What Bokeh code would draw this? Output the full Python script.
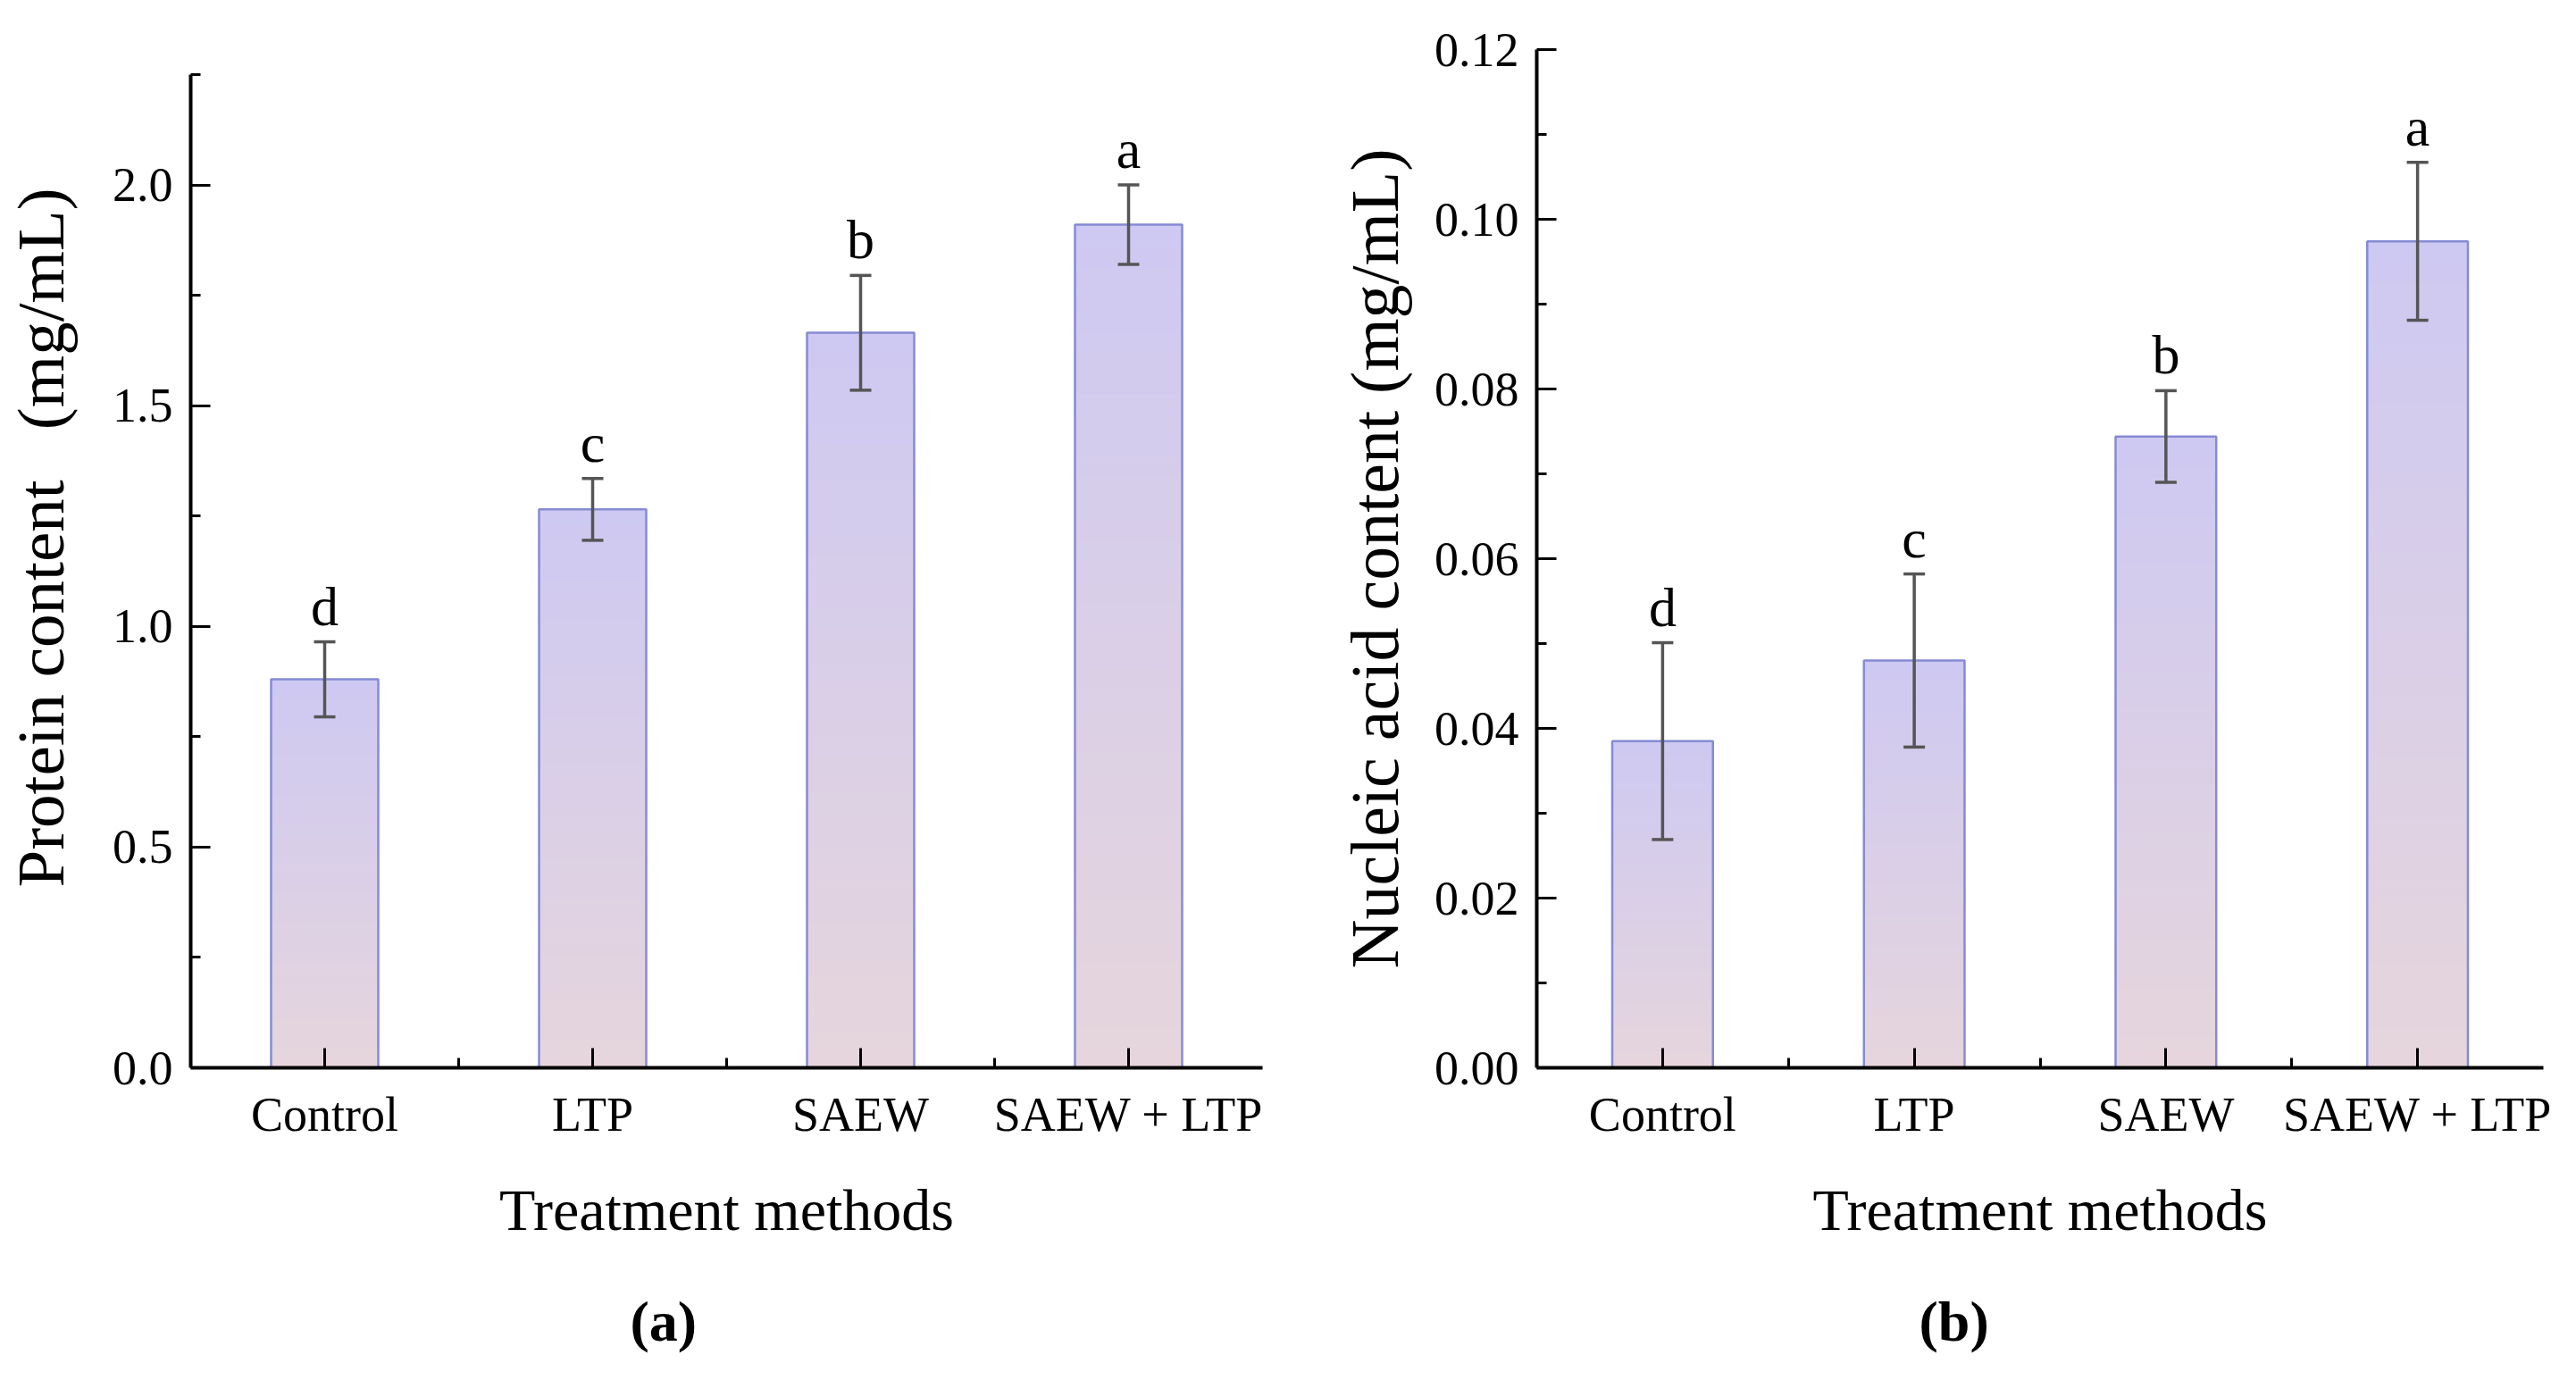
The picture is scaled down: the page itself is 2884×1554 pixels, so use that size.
from bokeh.plotting import figure
from bokeh.models import (Range1d, FixedTicker, ColumnDataSource, Whisker, TeeHead,
                          LinearAxis, NumeralTickFormatter)
from bokeh.layouts import row
from bokeh.core.properties import value
from bokeh.embed import file_html
from bokeh.resources import INLINE

# ---- data ----
categories = ["Control", "LTP", "SAEW", "SAEW + LTP"]
protein = [0.88, 1.265, 1.665, 1.91]
protein_err = [0.085, 0.07, 0.13, 0.09]
protein_letters = ["d", "c", "b", "a"]
nucleic = [0.0385, 0.048, 0.0744, 0.0974]
nucleic_err = [0.0116, 0.0102, 0.0054, 0.0093]
nucleic_letters = ["d", "c", "b", "a"]
protein_ticks = [0.0, 0.5, 1.0, 1.5, 2.0]
protein_minor = [0.25, 0.75, 1.25, 1.75, 2.25]
nucleic_ticks = [0.0, 0.02, 0.04, 0.06, 0.08, 0.10, 0.12]
nucleic_minor = [0.01, 0.03, 0.05, 0.07, 0.09, 0.11]

FONT = "Liberation Serif"
H = 1536
TOP_RGB = (206, 201, 242)
BOT_RGB = (230, 213, 220)
NSEG = 40


def hexcol(t):
    r = [round(BOT_RGB[i] + (TOP_RGB[i] - BOT_RGB[i]) * t) for i in range(3)]
    return "#%02x%02x%02x" % tuple(r)


def make(values, errs, letters, ymax, major, minor, fmt, ylabel,
         width, bl, br, bt, ystandoff, ysize):
    p = figure(width=width, height=H, x_range=Range1d(0.5, 4.5), y_range=Range1d(0, ymax),
               output_backend="svg", toolbar_location=None,
               min_border_left=bl, min_border_right=br, min_border_top=bt,
               min_border_bottom=H - 1195)
    p.frame_align = False
    p.grid.visible = False
    p.outline_line_color = None
    p.background_fill_color = "white"

    xs = list(range(1, len(categories) + 1))
    # gradient bars built from stacked segments
    sx, sb, st, sc = [], [], [], []
    for x, v in zip(xs, values):
        for i in range(NSEG):
            sx.append(x)
            sb.append(v * i / NSEG)
            st.append(v * (i + 1) / NSEG)
            sc.append(hexcol((i + 0.5) / NSEG))
    p.vbar(x=sx, bottom=sb, top=st, width=0.4, fill_color=sc, line_color=sc, line_width=1)
    p.vbar(x=xs, bottom=0, top=values, width=0.4, fill_alpha=0, line_color="#858bd4", line_width=2.5)

    src = ColumnDataSource(dict(x=xs, upper=[v + e for v, e in zip(values, errs)],
                                lower=[v - e for v, e in zip(values, errs)]))
    w = Whisker(base="x", upper="upper", lower="lower", source=src, level="overlay",
                line_width=3.5, line_color="#555555",
                upper_head=TeeHead(size=24, line_width=3.5, line_color="#555555"),
                lower_head=TeeHead(size=24, line_width=3.5, line_color="#555555"))
    p.add_layout(w)

    p.text(x=xs, y=[v + e for v, e in zip(values, errs)], text=letters,
           text_font=value(FONT), text_font_size="62px", text_align="center",
           text_baseline="alphabetic", y_offset=-40, text_color="black")

    xa = p.xaxis[0]
    xa.ticker = FixedTicker(ticks=xs, minor_ticks=[1.5, 2.5, 3.5])
    xa.major_label_overrides = {x: c for x, c in zip(xs, categories)}
    xa.axis_label = "Treatment methods"
    ya = p.yaxis[0]
    ya.ticker = FixedTicker(ticks=major, minor_ticks=minor)
    ya.formatter = NumeralTickFormatter(format=fmt)
    ya.axis_label = ylabel
    for ax in (xa, ya):
        ax.axis_line_width = 4
        ax.axis_line_color = "black"
        ax.major_tick_in = 22
        ax.major_tick_out = 0
        ax.minor_tick_in = 11
        ax.minor_tick_out = 0
        ax.major_tick_line_width = 3
        ax.minor_tick_line_width = 3
        ax.major_label_text_font = FONT
        ax.major_label_text_font_size = "54px"
        ax.major_label_text_color = "black"
        ax.axis_label_text_font = FONT
        ax.axis_label_text_font_style = "normal"
        ax.axis_label_text_color = "black"
    xa.major_label_standoff = 22
    xa.axis_label_standoff = 37
    xa.axis_label_text_font_size = "66px"
    ya.major_label_standoff = 20
    ya.axis_label_standoff = ystandoff
    ya.axis_label_text_font_size = ysize
    return p


def caption(p, text, cx):
    cap = LinearAxis(ticker=FixedTicker(ticks=[cx], minor_ticks=[]),
                     major_label_overrides={cx: text},
                     axis_line_color=None, major_tick_line_color=None,
                     minor_tick_line_color=None, major_label_standoff=44,
                     major_label_text_font=FONT, major_label_text_font_size="64px",
                     major_label_text_font_style="bold", major_label_text_color="black")
    p.add_layout(cap, "below")


left = make(protein, protein_err, protein_letters, 2.25, protein_ticks, protein_minor, "0.0",
            "\u2002\u2002Protein content\u2002 (mg/mL)", 1493, 210, 80, 83, 36, "75px")
right = make(nucleic, nucleic_err, nucleic_letters, 0.12, nucleic_ticks, nucleic_minor, "0.00",
             "Nucleic acid content (mg/mL)", 1374, 225, 20, 55, 22, "76px")

caption(left, "(a)", 2.264)
caption(right, "(b)", 2.158)

layout = row(left, right)
open("out.html", "w").write(file_html(layout, INLINE))
